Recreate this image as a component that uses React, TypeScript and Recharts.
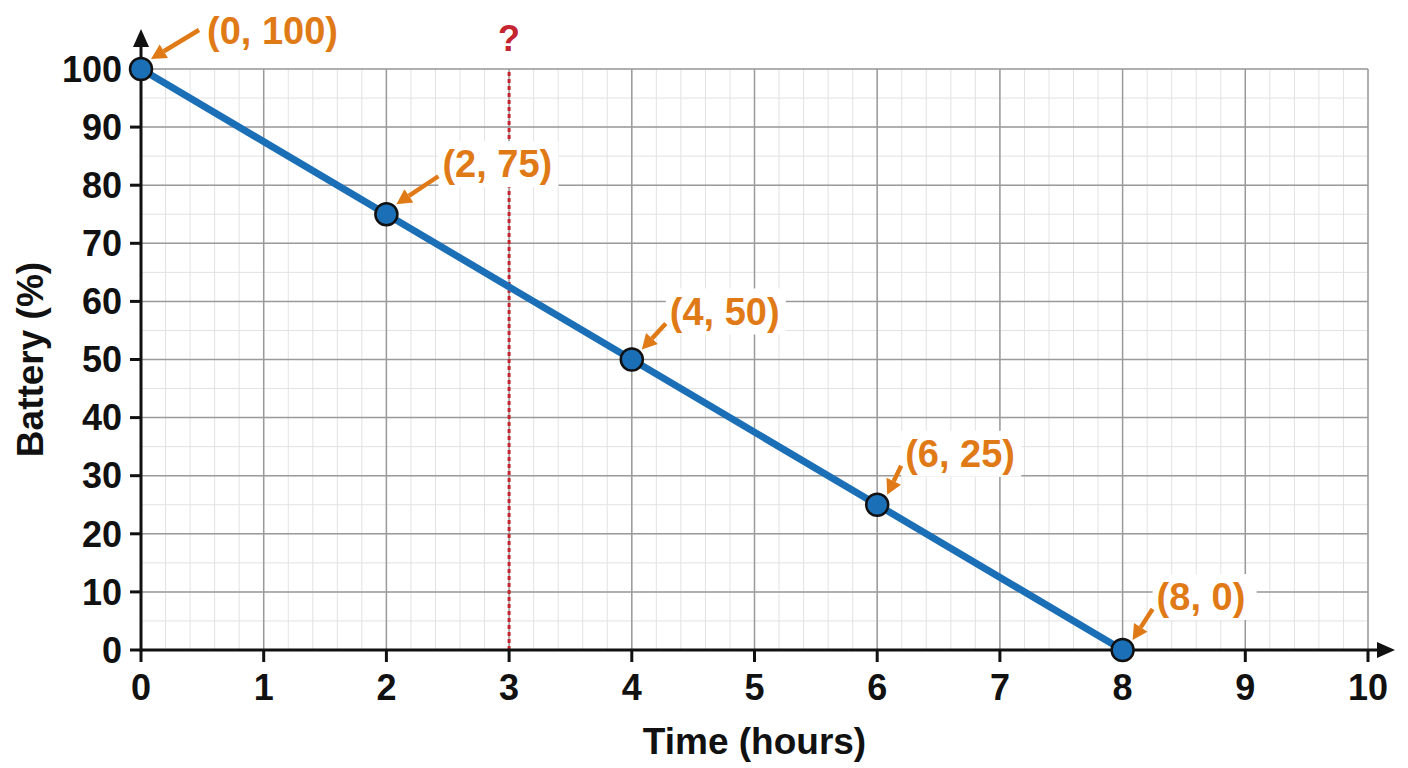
import {
  LineChart,
  Line,
  XAxis,
  YAxis,
  CartesianGrid,
  ReferenceLine,
  LabelList,
} from "recharts";

const HOURS = [0, 2, 4, 6, 8];
const BATTERY = [100, 75, 50, 25, 0];
const X_TICKS = [0, 1, 2, 3, 4, 5, 6, 7, 8, 9, 10];
const Y_TICKS = [0, 10, 20, 30, 40, 50, 60, 70, 80, 90, 100];
const X_MINOR = Array.from({ length: 51 }, (_, i) => +(i * 0.2).toFixed(1));
const Y_MINOR = Array.from({ length: 21 }, (_, i) => i * 5);
const MARKED_HOUR = 3;

const data = HOURS.map((h, i) => ({ hours: h, battery: BATTERY[i] }));

// where each callout sits relative to its point (px)
const CALLOUT_DX = [66, 56, 38, 28, 34];
const CALLOUT_DY = [-38, -50, -48, -51, -53];

const FONT = "'Liberation Sans', Arial, sans-serif";
const ORANGE = "#e07a16";
const BLUE = "#1b6fb6";
const RED = "#c42530";

const arrowShape = (props: any) => {
  const { x1, y1, x2, y2 } = props;
  const ang = Math.atan2(y2 - y1, x2 - x1);
  const len = 18;
  const half = 8;
  const bx = x2 - len * Math.cos(ang);
  const by = y2 - len * Math.sin(ang);
  const px = -Math.sin(ang) * half;
  const py = Math.cos(ang) * half;
  return (
    <g>
      <line x1={x1} y1={y1} x2={bx} y2={by} stroke="#111" strokeWidth={3} />
      <polygon
        points={`${x2},${y2} ${bx + px},${by + py} ${bx - px},${by - py}`}
        fill="#111"
      />
    </g>
  );
};

const renderAnnotation = (props: any) => {
  const { x, y, index } = props;
  const first = index === 0;
  const tx = x + CALLOUT_DX[index];
  const ty = y + CALLOUT_DY[index];
  const sx = first ? x + 58 : tx - 4;
  const sy = first ? y - 39 : ty + 12;
  const ex = x + 10;
  const ey = y - 10;
  const ang = Math.atan2(ey - sy, ex - sx);
  const hl = 15;
  const hw = 8;
  const bx = ex - hl * Math.cos(ang);
  const by = ey - hl * Math.sin(ang);
  const px = -Math.sin(ang) * hw;
  const py = Math.cos(ang) * hw;
  const label = `(${HOURS[index]}, ${BATTERY[index]})`;
  const w = label.length * 16 + 8;
  return (
    <g>
      <rect x={tx - 4} y={ty - 23} width={w} height={46} fill="#fff" />
      <line x1={sx} y1={sy} x2={bx} y2={by} stroke={ORANGE} strokeWidth={4.5} />
      <polygon
        points={`${ex},${ey} ${bx + px},${by + py} ${bx - px},${by - py}`}
        fill={ORANGE}
      />
      <text
        x={tx}
        y={ty + 13}
        fill={ORANGE}
        fontSize={38}
        fontWeight="bold"
        fontFamily={FONT}
      >
        {label}
      </text>
    </g>
  );
};

const YTitle = (props: any) => {
  const { viewBox } = props;
  const cx = 22;
  const cy = viewBox.y + viewBox.height / 2;
  return (
    <text
      x={cx}
      y={cy}
      transform={`rotate(-90, ${cx}, ${cy})`}
      textAnchor="middle"
      dominantBaseline="central"
      fontSize={37}
      fontWeight="bold"
      fontFamily={FONT}
      fill="#111"
    >
      Battery (%)
    </text>
  );
};

const tickStyle = {
  fontSize: 36,
  fontWeight: "bold",
  fontFamily: FONT,
  fill: "#111",
};

export default function App() {
  return (
    <LineChart
      width={1400}
      height={760}
      data={data}
      margin={{ top: 61, right: 40, bottom: 0, left: 0 }}
    >
      <CartesianGrid
        stroke="#e2e2e2"
        strokeWidth={1}
        verticalValues={X_MINOR}
        horizontalValues={Y_MINOR}
      />
      <CartesianGrid stroke="#9a9a9a" strokeWidth={1.5} />
      <XAxis
        type="number"
        dataKey="hours"
        domain={[0, 10]}
        ticks={X_TICKS}
        interval={0}
        axisLine={false}
        tickLine={{ stroke: "#111", strokeWidth: 3 }}
        tickSize={12}
        tickMargin={12}
        tick={tickStyle}
        height={118}
        label={{
          value: "Time (hours)",
          position: "insideBottom",
          offset: 14,
          fontSize: 37,
          fontWeight: "bold",
          fontFamily: FONT,
          fill: "#111",
        }}
      />
      <YAxis
        type="number"
        domain={[0, 100]}
        ticks={Y_TICKS}
        interval={0}
        width={133}
        axisLine={false}
        tickLine={{ stroke: "#111", strokeWidth: 3 }}
        tickSize={11}
        tickMargin={8}
        tick={tickStyle}
        label={<YTitle />}
      />
      <ReferenceLine
        x={MARKED_HOUR}
        stroke={RED}
        strokeWidth={3}
        strokeDasharray="4 3"
        label={{
          value: "?",
          position: "top",
          offset: 18,
          fill: RED,
          fontSize: 36,
          fontWeight: "bold",
          fontFamily: FONT,
        }}
      />
      <ReferenceLine
        segment={[
          { x: 0, y: 0 },
          { x: 10.22, y: 0 },
        ]}
        ifOverflow="visible"
        shape={arrowShape}
      />
      <ReferenceLine
        segment={[
          { x: 0, y: -0.3 },
          { x: 0, y: 106.9 },
        ]}
        ifOverflow="visible"
        shape={arrowShape}
      />
      <Line
        type="linear"
        dataKey="battery"
        stroke={BLUE}
        strokeWidth={7}
        dot={{ r: 11, fill: BLUE, stroke: "#111", strokeWidth: 2.5 }}
        activeDot={false}
        isAnimationActive={false}
      >
        <LabelList dataKey="battery" content={renderAnnotation} />
      </Line>
    </LineChart>
  );
}
